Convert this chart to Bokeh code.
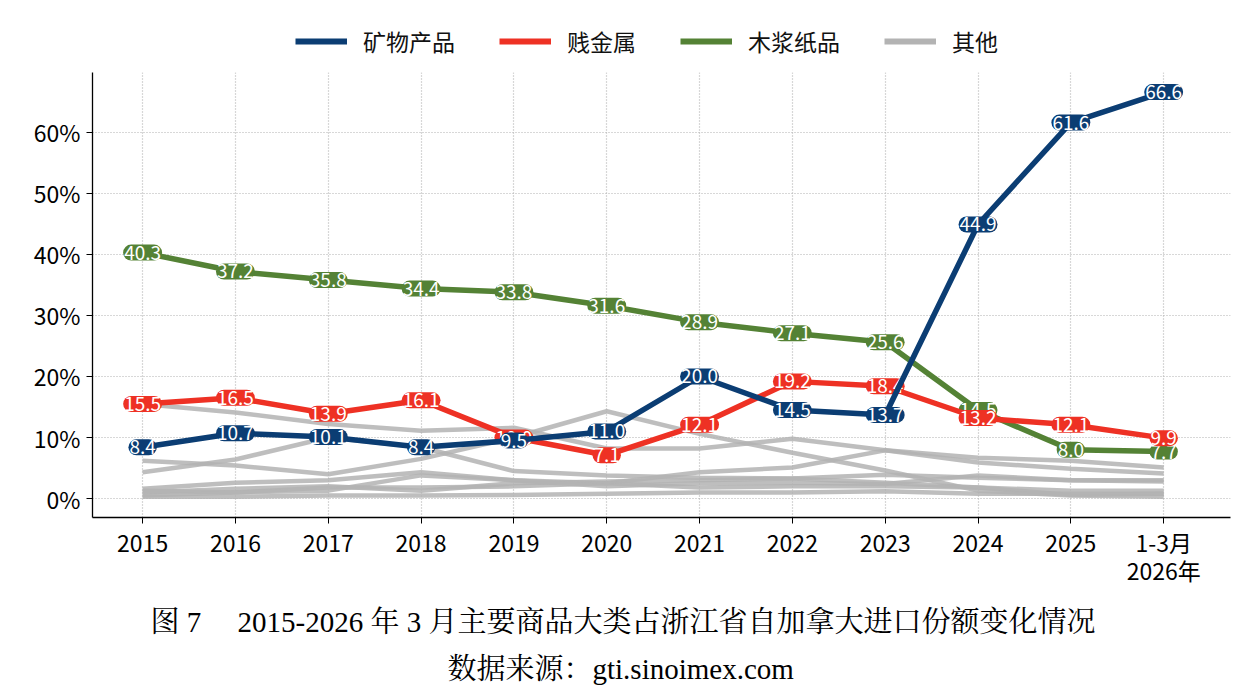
from bokeh.plotting import figure
from bokeh.layouts import column
from bokeh.models import (Legend, LegendItem, FixedTicker, Title, ColumnDataSource,
                          Range1d)
from bokeh.core.properties import value
from bokeh.embed import file_html
from bokeh.resources import INLINE

# ---------------- data ----------------
periods = ["2015", "2016", "2017", "2018", "2019", "2020", "2021", "2022",
           "2023", "2024", "2025", "1-3月\n2026年"]

mineral = [8.4, 10.7, 10.1, 8.4, 9.5, 11.0, 20.0, 14.5, 13.7, 44.9, 61.6, 66.6]
base_metal = [15.5, 16.5, 13.9, 16.1, 10.0, 7.1, 12.1, 19.2, 18.4, 13.2, 12.1, 9.9]
pulp_paper = [40.3, 37.2, 35.8, 34.4, 33.8, 31.6, 28.9, 27.1, 25.6, 14.5, 8.0, 7.7]

other_1 = [15.5, 14.1, 12.2, 11.1, 11.6, 8.2, 8.2, 9.8, 7.9, 5.9, 4.9, 4.1]
other_2 = [4.3, 6.4, 10.0, 8.4, 4.5, 3.8, 3.4, 3.3, 2.6, 1.8, 0.6, 0.8]
other_3 = [6.2, 5.4, 4.0, 6.5, 10.0, 14.3, 10.6, 7.5, 4.6, 1.3, 0.5, 0.3]
other_4 = [1.6, 2.6, 3.0, 4.3, 3.0, 2.5, 4.3, 5.1, 7.9, 6.7, 6.2, 5.1]
other_5 = [1.0, 1.6, 2.0, 1.3, 2.5, 2.8, 3.0, 3.3, 3.9, 3.4, 3.0, 3.0]
other_6 = [0.5, 1.0, 1.8, 1.8, 2.0, 2.5, 1.8, 2.0, 2.0, 1.8, 1.3, 1.3]
other_7 = [0.3, 0.3, 0.5, 0.5, 0.6, 0.8, 1.0, 1.0, 1.2, 0.8, 0.8, 0.8]
other_8 = [1.3, 1.0, 1.3, 3.8, 3.0, 2.0, 2.5, 2.6, 2.4, 3.8, 3.0, 2.8]
others = [other_1, other_2, other_3, other_4, other_5, other_6, other_7, other_8]

y_ticks = [0, 10, 20, 30, 40, 50, 60]

series_names = ["矿物产品", "贱金属", "木浆纸品", "其他"]
colors = {"矿物产品": "#0b3d73", "贱金属": "#ee3124", "木浆纸品": "#548235", "其他": "#b3b3b3"}

caption_1 = "图 7　 2015-2026 年 3 月主要商品大类占浙江省自加拿大进口份额变化情况"
caption_2 = "数据来源：gti.sinoimex.com"

# ---------------- main figure ----------------
xs = list(range(len(periods)))
CJK = "Noto Sans CJK SC"
SERIF = "Liberation Serif, Noto Serif CJK SC, Noto Sans CJK SC"

p = figure(frame_width=1138, frame_height=445, output_backend="svg", toolbar_location=None,
           x_range=Range1d(-0.54, 11.72), y_range=Range1d(-3.1, 69.8),
           min_border_left=92, min_border_right=11, min_border_top=0,
           min_border_bottom=183)
p.outline_line_color = None
p.background_fill_color = "white"

for g in (p.xgrid, p.ygrid):
    g.grid_line_color = "#b0b0b0"
    g.grid_line_dash = "1 2"
    g.grid_line_width = 1.2
p.xgrid.ticker = FixedTicker(ticks=xs)
p.ygrid.ticker = FixedTicker(ticks=y_ticks)

p.xaxis.ticker = FixedTicker(ticks=xs)
p.xaxis.major_label_overrides = {i: lab for i, lab in enumerate(periods)}
p.yaxis.ticker = FixedTicker(ticks=y_ticks)
p.yaxis.major_label_overrides = {t: f"{t}%" for t in y_ticks}
for ax in (p.xaxis[0], p.yaxis[0]):
    ax.axis_line_color = "black"
    ax.axis_line_width = 1.3
    ax.major_tick_line_color = "black"
    ax.major_tick_out = 6
    ax.major_tick_in = 0
    ax.minor_tick_line_color = None
    ax.major_label_text_font = CJK
    ax.major_label_text_font_size = "23px"
    ax.major_label_text_color = "black"
p.xaxis.major_label_text_line_height = 0.85
p.xaxis.major_label_standoff = 1
p.yaxis.major_label_standoff = 6

for ys in others:
    p.line(xs, ys, line_color=colors["其他"], line_alpha=0.85, line_width=4.5)


def draw_series(name, ys):
    c = colors[name]
    p.line(xs, ys, line_color=c, line_width=5.5)
    src = ColumnDataSource(dict(x=xs, y=ys, t=[f"{v:.1f}" for v in ys]))
    p.text(x="x", y="y", text="t", source=src, text_color="white",
           text_font=value(CJK), text_font_size="19px",
           text_align="center", text_baseline="middle",
           background_fill_color=c, border_radius=8, padding=1)


draw_series("木浆纸品", pulp_paper)
draw_series("贱金属", base_metal)
draw_series("矿物产品", mineral)

t1 = Title(text=caption_1, align="left", offset=58, text_font=SERIF,
           text_font_size="29px", text_font_style="normal", text_color="black", standoff=26)
t2 = Title(text=caption_2, align="left", offset=355, text_font=SERIF,
           text_font_size="29px", text_font_style="normal", text_color="black", standoff=0)
p.add_layout(t1, "below")
p.add_layout(t2, "below")

# ---------------- legend strip ----------------
lg = figure(width=1241, height=72, output_backend="svg", toolbar_location=None,
            x_range=Range1d(0, 1), y_range=Range1d(0, 1),
            min_border=0)
lg.axis.visible = False
lg.grid.visible = False
lg.outline_line_color = None
items = []
for n in series_names:
    r = lg.line([-5, -4], [-5, -4], line_color=colors[n], line_width=6)
    items.append(LegendItem(label=n, renderers=[r]))
legend = Legend(items=items, orientation="horizontal", location=(203, 14),
                label_text_font=CJK, label_text_font_size="23px",
                label_text_color="#111111", glyph_width=52, glyph_height=22,
                spacing=44, label_standoff=16, border_line_color=None,
                background_fill_alpha=0, padding=6, margin=0)
lg.add_layout(legend, "center")

layout = column(lg, p, spacing=0)
open("out.html", "w").write(file_html(layout, INLINE))
